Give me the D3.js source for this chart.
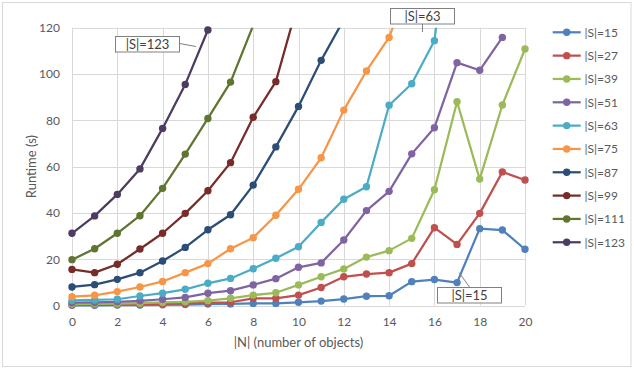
<!DOCTYPE html>
<html>
<head>
<meta charset="utf-8">
<script src="https://cdn.jsdelivr.net/npm/d3@7"></script>
<style>
  html, body { margin: 0; padding: 0; background: #fff; }
  svg text { font-family: Lato, "Open Sans", "Liberation Sans", sans-serif; }
</style>
</head>
<body>
<svg id="chart" width="634" height="369"></svg>
<script>
// Number of objects on the x axis
const objectCounts = d3.range(0, 21);
const xTicks = [0, 2, 4, 6, 8, 10, 12, 14, 16, 18, 20];
const yTicks = [0, 20, 40, 60, 80, 100, 120];

// Runtime (s) for each |S|; values above 120 run off the top of the axis
const s15  = [0.1, 0.1, 0.2, 0.2, 0.3, 0.4, 0.6, 0.7, 0.9, 0.9, 1.4, 1.9, 2.8, 4.0, 4.2, 10.3, 11.2, 9.9, 33.2, 32.6, 24.3];
const s27  = [0.3, 0.3, 0.4, 0.5, 0.7, 0.9, 1.2, 1.4, 3.1, 3.1, 4.5, 7.8, 12.4, 13.6, 14.2, 18.1, 33.6, 26.4, 39.8, 57.7, 54.2];
const s39  = [0.6, 0.7, 0.8, 1.0, 1.3, 1.6, 2.1, 3.1, 4.5, 5.5, 8.9, 12.4, 15.8, 20.9, 23.7, 29.0, 50.0, 88.0, 54.6, 86.6, 110.8];
const s51  = [1.2, 1.3, 1.6, 2.0, 2.7, 3.5, 5.3, 6.4, 8.9, 11.6, 16.5, 18.4, 28.3, 41.0, 49.3, 65.5, 76.8, 104.9, 101.6, 115.8];
const s63  = [2.2, 2.4, 2.7, 4.1, 5.3, 7.0, 9.6, 11.7, 15.9, 20.4, 25.4, 35.9, 45.9, 51.3, 86.5, 95.8, 114.4, 190];
const s75  = [3.8, 4.4, 6.0, 8.0, 10.4, 14.2, 18.1, 24.5, 29.3, 39.0, 50.2, 63.8, 84.4, 101.3, 115.8, 142];
const s87  = [8.0, 9.0, 11.3, 14.2, 19.2, 25.1, 32.7, 39.2, 52.0, 68.5, 86.0, 105.9, 123.5];
const s99  = [15.6, 14.2, 17.8, 24.4, 31.2, 39.8, 49.6, 61.7, 81.3, 96.7, 131.5];
const s111 = [19.8, 24.5, 31.2, 38.8, 50.6, 65.4, 80.8, 96.5, 121];
const s123 = [31.2, 38.7, 48.0, 59.0, 76.5, 95.5, 119.0];

const seriesNames  = ["|S|=15", "|S|=27", "|S|=39", "|S|=51", "|S|=63", "|S|=75", "|S|=87", "|S|=99", "|S|=111", "|S|=123"];
const seriesValues = [s15, s27, s39, s51, s63, s75, s87, s99, s111, s123];
const seriesColors = ["#4F81BD", "#C0504D", "#9BBB59", "#8064A2", "#4BACC6",
                      "#F79646", "#2C4D75", "#772C2A", "#5F7530", "#4D3B62"];

// Callout labels: series index and the point they point at
const callouts = [
  { series: 9, text: "|S|=123" },
  { series: 4, text: "|S|=63" },
  { series: 0, text: "|S|=15" }
];

const series = seriesNames.map((name, i) => ({
  name,
  color: seriesColors[i],
  points: seriesValues[i].map((v, j) => ({ n: objectCounts[j], v }))
}));

const svg = d3.select("#chart");
const W = 634, H = 369;
const plot = { left: 72, right: 525, top: 27.7, bottom: 305.5 };

const x = d3.scaleLinear().domain([0, 20]).range([plot.left, plot.right]);
const y = d3.scaleLinear().domain([0, 120]).range([plot.bottom, plot.top]);

// Chart frame
svg.append("rect")
  .attr("x", 2.5).attr("y", 2.5)
  .attr("width", W - 5.5).attr("height", H - 5)
  .attr("fill", "#fff").attr("stroke", "#D9D9D9").attr("stroke-width", 1);

// Gridlines
const grid = svg.append("g");
grid.selectAll("line.h").data(yTicks).join("line")
  .attr("x1", plot.left).attr("x2", plot.right)
  .attr("y1", d => Math.round(y(d)) + 0.5).attr("y2", d => Math.round(y(d)) + 0.5)
  .attr("stroke", "#D9D9D9").attr("stroke-width", 1);
grid.selectAll("line.v").data(xTicks).join("line")
  .attr("y1", plot.top).attr("y2", plot.bottom)
  .attr("x1", d => Math.round(x(d)) + 0.5).attr("x2", d => Math.round(x(d)) + 0.5)
  .attr("stroke", "#D9D9D9").attr("stroke-width", 1);

// Axes (labels only, Excel-style)
const yAxis = svg.append("g")
  .attr("transform", `translate(${plot.left - 12},0)`)
  .call(d3.axisLeft(y).tickValues(yTicks).tickSize(0).tickPadding(0));
yAxis.select(".domain").remove();
yAxis.selectAll("text").attr("fill", "#595959").attr("font-size", 12);

const xAxis = svg.append("g")
  .attr("transform", `translate(0,${plot.bottom + 12})`)
  .call(d3.axisBottom(x).tickValues(xTicks).tickSize(0).tickPadding(0));
xAxis.select(".domain").remove();
xAxis.selectAll("text").attr("fill", "#595959").attr("font-size", 12);

// Axis titles
svg.append("text")
  .attr("x", (plot.left + plot.right) / 2).attr("y", 347)
  .attr("text-anchor", "middle").attr("fill", "#595959").attr("font-size", 13)
  .text("|N| (number of objects)");
svg.append("text")
  .attr("transform", `translate(36,${(plot.top + plot.bottom) / 2}) rotate(-90)`)
  .attr("text-anchor", "middle").attr("fill", "#595959").attr("font-size", 13)
  .text("Runtime (s)");

// Clip series to the plot area
svg.append("clipPath").attr("id", "plotClip")
  .append("rect")
  .attr("x", plot.left - 6).attr("y", plot.top - 1)
  .attr("width", plot.right - plot.left + 12).attr("height", plot.bottom - plot.top + 7);

const line = d3.line().x(d => x(d.n)).y(d => y(d.v));
const clipLine = svg.append("clipPath").attr("id", "lineClip")
  .append("rect")
  .attr("x", plot.left - 6).attr("y", plot.top)
  .attr("width", plot.right - plot.left + 12).attr("height", plot.bottom - plot.top + 7);

const seriesG = svg.append("g");
series.forEach(s => {
  const g = seriesG.append("g");
  g.append("path")
    .attr("clip-path", "url(#lineClip)")
    .attr("d", line(s.points))
    .attr("fill", "none").attr("stroke", s.color)
    .attr("stroke-width", 2.25).attr("stroke-linejoin", "round").attr("stroke-linecap", "round");
  g.selectAll("circle").data(s.points.filter(p => p.v <= 120)).join("circle")
    .attr("cx", d => x(d.n)).attr("cy", d => y(d.v)).attr("r", 3.7)
    .attr("fill", s.color);
});

// Callout boxes with leader lines
function callout(bx, by, bw, bh, text, lx1, ly1, lx2, ly2) {
  const g = svg.append("g");
  g.append("line").attr("x1", lx1).attr("y1", ly1).attr("x2", lx2).attr("y2", ly2)
    .attr("stroke", "#7F7F7F").attr("stroke-width", 1);
  g.append("rect").attr("x", bx).attr("y", by).attr("width", bw).attr("height", bh)
    .attr("fill", "#fff").attr("stroke", "#808080").attr("stroke-width", 1);
  g.append("text").attr("x", bx + bw / 2).attr("y", by + bh / 2 + 4.5)
    .attr("text-anchor", "middle").attr("fill", "#404040").attr("font-size", 13)
    .text(text);
}
const c123 = series[callouts[0].series].points[6];
callout(115.5, 36.5, 64, 15.5, callouts[0].text, 179.5, 43.5, x(c123.n) - 12, y(c123.v) + 16.5);
const c63 = series[callouts[1].series].points[16];
callout(390.5, 8.5, 64, 15.5, callouts[1].text, 422.5, 24, 422.5, 32);
const c15 = series[callouts[2].series].points[17];
callout(437.5, 287.5, 64, 15.5, callouts[2].text, 469.5, 287, x(c15.n) + 2, y(c15.v) - 10);

// Legend
const legend = svg.append("g");
series.forEach((s, i) => {
  const ly = 32.3 + i * 23.33;
  legend.append("line").attr("x1", 552.7).attr("x2", 580.7).attr("y1", ly).attr("y2", ly)
    .attr("stroke", s.color).attr("stroke-width", 2.25);
  legend.append("circle").attr("cx", 566.7).attr("cy", ly).attr("r", 3.7).attr("fill", s.color);
  legend.append("text").attr("x", 584.5).attr("y", ly + 4.3)
    .attr("fill", "#595959").attr("font-size", 12).text(s.name);
});
</script>
</body>
</html>
